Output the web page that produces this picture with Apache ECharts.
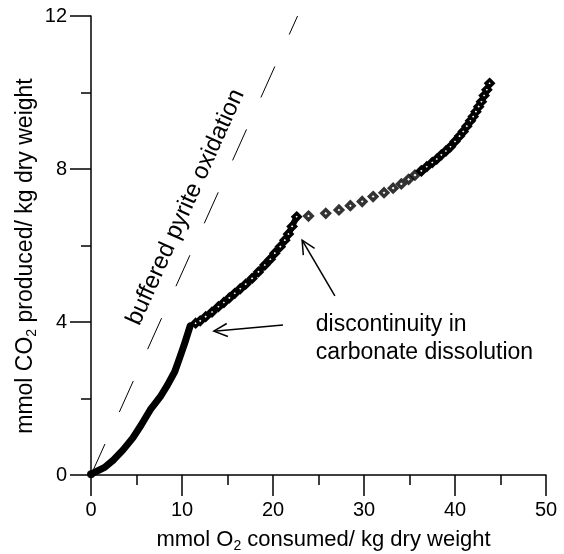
<!DOCTYPE html>
<html>
<head>
<meta charset="utf-8">
<script src="https://cdn.jsdelivr.net/npm/echarts@6/dist/echarts.min.js"></script>
<style>
html,body{margin:0;padding:0;background:#fff;}
#main{width:564px;height:554px;}
</style>
</head>
<body>
<div id="main"></div>
<script>
// solid thick part (start of run)
var seg1X=[0,0.5,1.5,2.5,3.5,4.6,5.5,6.5,7.6,8.4,9.2,9.8,10.3,10.9];
var seg1Y=[0.02,0.08,0.2,0.4,0.65,0.97,1.3,1.7,2.04,2.35,2.7,3.1,3.45,3.9];
// dense diamonds after the first break
var seg2X=[11.5,12.0,12.6,13.3,14.0,14.6,15.2,15.8,16.4,17.0,17.7,18.4,19.1,19.7,20.2,20.8,21.3,21.7,22.1,22.6];
var seg2Y=[3.97,4.03,4.14,4.26,4.40,4.51,4.63,4.75,4.87,4.99,5.14,5.31,5.49,5.64,5.80,5.97,6.14,6.30,6.50,6.75];
// sparse diamonds after the second break
var seg3X=[23.9,25.8,27.25,28.5,29.8,31.0,32.2,33.2,34.1,34.9,35.6,36.3];
var seg3Y=[6.77,6.84,6.93,7.04,7.15,7.28,7.38,7.50,7.61,7.73,7.84,7.95];
// dense diamonds at the end
var seg4X=[36.3,36.9,37.5,38.0,38.5,39.0,39.5,40.0,40.5,40.9,41.3,41.7,42.0,42.3,42.6,42.9,43.2,43.5,43.8];
var seg4Y=[7.95,8.06,8.17,8.26,8.37,8.47,8.58,8.72,8.86,8.98,9.12,9.26,9.37,9.50,9.63,9.76,9.92,10.07,10.24];
// buffered pyrite oxidation line
var pyriteX=[0,22.7];
var pyriteY=[0,12];

var xTicks=[0,10,20,30,40,50];
var yTicks=[0,4,8,12];

var FONT='Liberation Sans, Arial, sans-serif';

function pairs(xs,ys){
	var out=[];
	for(var i=0;i<xs.length;i++){
		out.push([xs[i],ys[i]]);
	}
	return out;
}

var diamondStyle={color:'#fff',borderColor:'#000',borderWidth:3.4};

var myChart=echarts.init(document.getElementById('main'));
var option={
	animation:false,
	backgroundColor:'#fff',
	grid:{left:91,right:18,top:16,bottom:79,containLabel:false,outerBoundsMode:'none'},
	xAxis:{
		type:'value',
		min:xTicks[0],
		max:xTicks[xTicks.length-1],
		interval:10,
		name:'mmol O{sub|2} consumed/ kg dry weight',
		nameLocation:'middle',
		nameGap:52,
		nameTextStyle:{
			color:'#000',fontSize:22,fontFamily:FONT,padding:[0,0,0,10],
			rich:{sub:{fontSize:14,fontFamily:FONT,color:'#000',padding:[12,0,0,0]}}
		},
		axisLine:{lineStyle:{color:'#000',width:1.5}},
		axisTick:{length:21,lineStyle:{color:'#000',width:1.5}},
		minorTick:{show:true,splitNumber:2,length:10,lineStyle:{color:'#000',width:1.5}},
		axisLabel:{color:'#000',fontSize:20,fontFamily:FONT,margin:25},
		splitLine:{show:false}
	},
	yAxis:{
		type:'value',
		min:yTicks[0],
		max:yTicks[yTicks.length-1],
		interval:4,
		axisLine:{lineStyle:{color:'#000',width:1.5}},
		axisTick:{length:21,lineStyle:{color:'#000',width:1.5}},
		minorTick:{show:true,splitNumber:2,length:10,lineStyle:{color:'#000',width:1.5}},
		axisLabel:{color:'#000',fontSize:20,fontFamily:FONT,margin:24},
		splitLine:{show:false}
	},
	series:[
		{
			name:'pyrite',
			type:'line',
			data:pairs(pyriteX,pyriteY),
			showSymbol:false,
			lineStyle:{color:'#000',width:1,type:[34,35]},
			z:1
		},
		{
			name:'seg1',
			type:'line',
			data:pairs(seg1X,seg1Y),
			showSymbol:false,
			lineStyle:{color:'#000',width:7,cap:'round',join:'round'}
		},
		{
			name:'seg2',
			type:'line',
			data:pairs(seg2X,seg2Y),
			symbol:'diamond',
			symbolSize:7,
			itemStyle:diamondStyle,
			lineStyle:{color:'#000',width:6,cap:'round',join:'round'}
		},
		{
			name:'seg3',
			type:'scatter',
			data:pairs(seg3X,seg3Y),
			symbol:'diamond',
			symbolSize:7.5,
			itemStyle:diamondStyle
		},
		{
			name:'seg4',
			type:'line',
			data:pairs(seg4X,seg4Y),
			symbol:'diamond',
			symbolSize:7,
			itemStyle:diamondStyle,
			lineStyle:{color:'#000',width:5,join:'round'}
		},
		{
			name:'origin',
			type:'scatter',
			data:[[seg1X[0],seg1Y[0]]],
			symbol:'circle',
			symbolSize:8,
			itemStyle:{color:'#000'}
		}
	]
};
myChart.setOption(option);

//箭头
function arrow(from,to){
	var a=myChart.convertToPixel({gridIndex:0},from);
	var b=myChart.convertToPixel({gridIndex:0},to);
	var ang=Math.atan2(a[1]-b[1],a[0]-b[0]);
	var len=15,spread=0.45;
	var h1=[b[0]+len*Math.cos(ang+spread),b[1]+len*Math.sin(ang+spread)];
	var h2=[b[0]+len*Math.cos(ang-spread),b[1]+len*Math.sin(ang-spread)];
	return [
		{type:'polyline',shape:{points:[a,b]},style:{stroke:'#000',lineWidth:1.5,fill:null}},
		{type:'polyline',shape:{points:[h1,b,h2]},style:{stroke:'#000',lineWidth:1.5,fill:null}}
	];
}

var p0=myChart.convertToPixel({gridIndex:0},[pyriteX[0],pyriteY[0]]);
var p1=myChart.convertToPixel({gridIndex:0},[pyriteX[1],pyriteY[1]]);
var rot=Math.atan2(p0[1]-p1[1],p1[0]-p0[0]);
var labelPos=myChart.convertToPixel({gridIndex:0},[10.4,7.0]);
var notePos=myChart.convertToPixel({gridIndex:0},[24.7,4.3]);

var elements=[].concat(
	arrow([21.1,3.92],[13.5,3.76]),
	arrow([26.8,4.68],[23.2,6.14])
);
elements.push({
	type:'text',
	x:labelPos[0],y:labelPos[1],
	rotation:rot,
	style:{text:'buffered pyrite oxidation',fill:'#000',fontSize:24,fontFamily:FONT,align:'center',verticalAlign:'middle'}
});
elements.push({
	type:'text',
	x:notePos[0],y:notePos[1],
	style:{text:'discontinuity in\ncarbonate dissolution',fill:'#000',fontSize:23,fontFamily:FONT,lineHeight:28,align:'left',verticalAlign:'top'}
});
// y axis title
elements.push({
	type:'text',
	x:26,y:256,
	rotation:Math.PI/2,
	style:{
		text:'mmol CO{sub|2} produced/ kg dry weight',
		fill:'#000',fontSize:23,fontFamily:FONT,align:'center',verticalAlign:'middle',
		rich:{sub:{fontSize:14,fontFamily:FONT,fill:'#000',padding:[12,0,0,0]}}
	}
});
myChart.setOption({graphic:{elements:elements}});
</script>
</body>
</html>
